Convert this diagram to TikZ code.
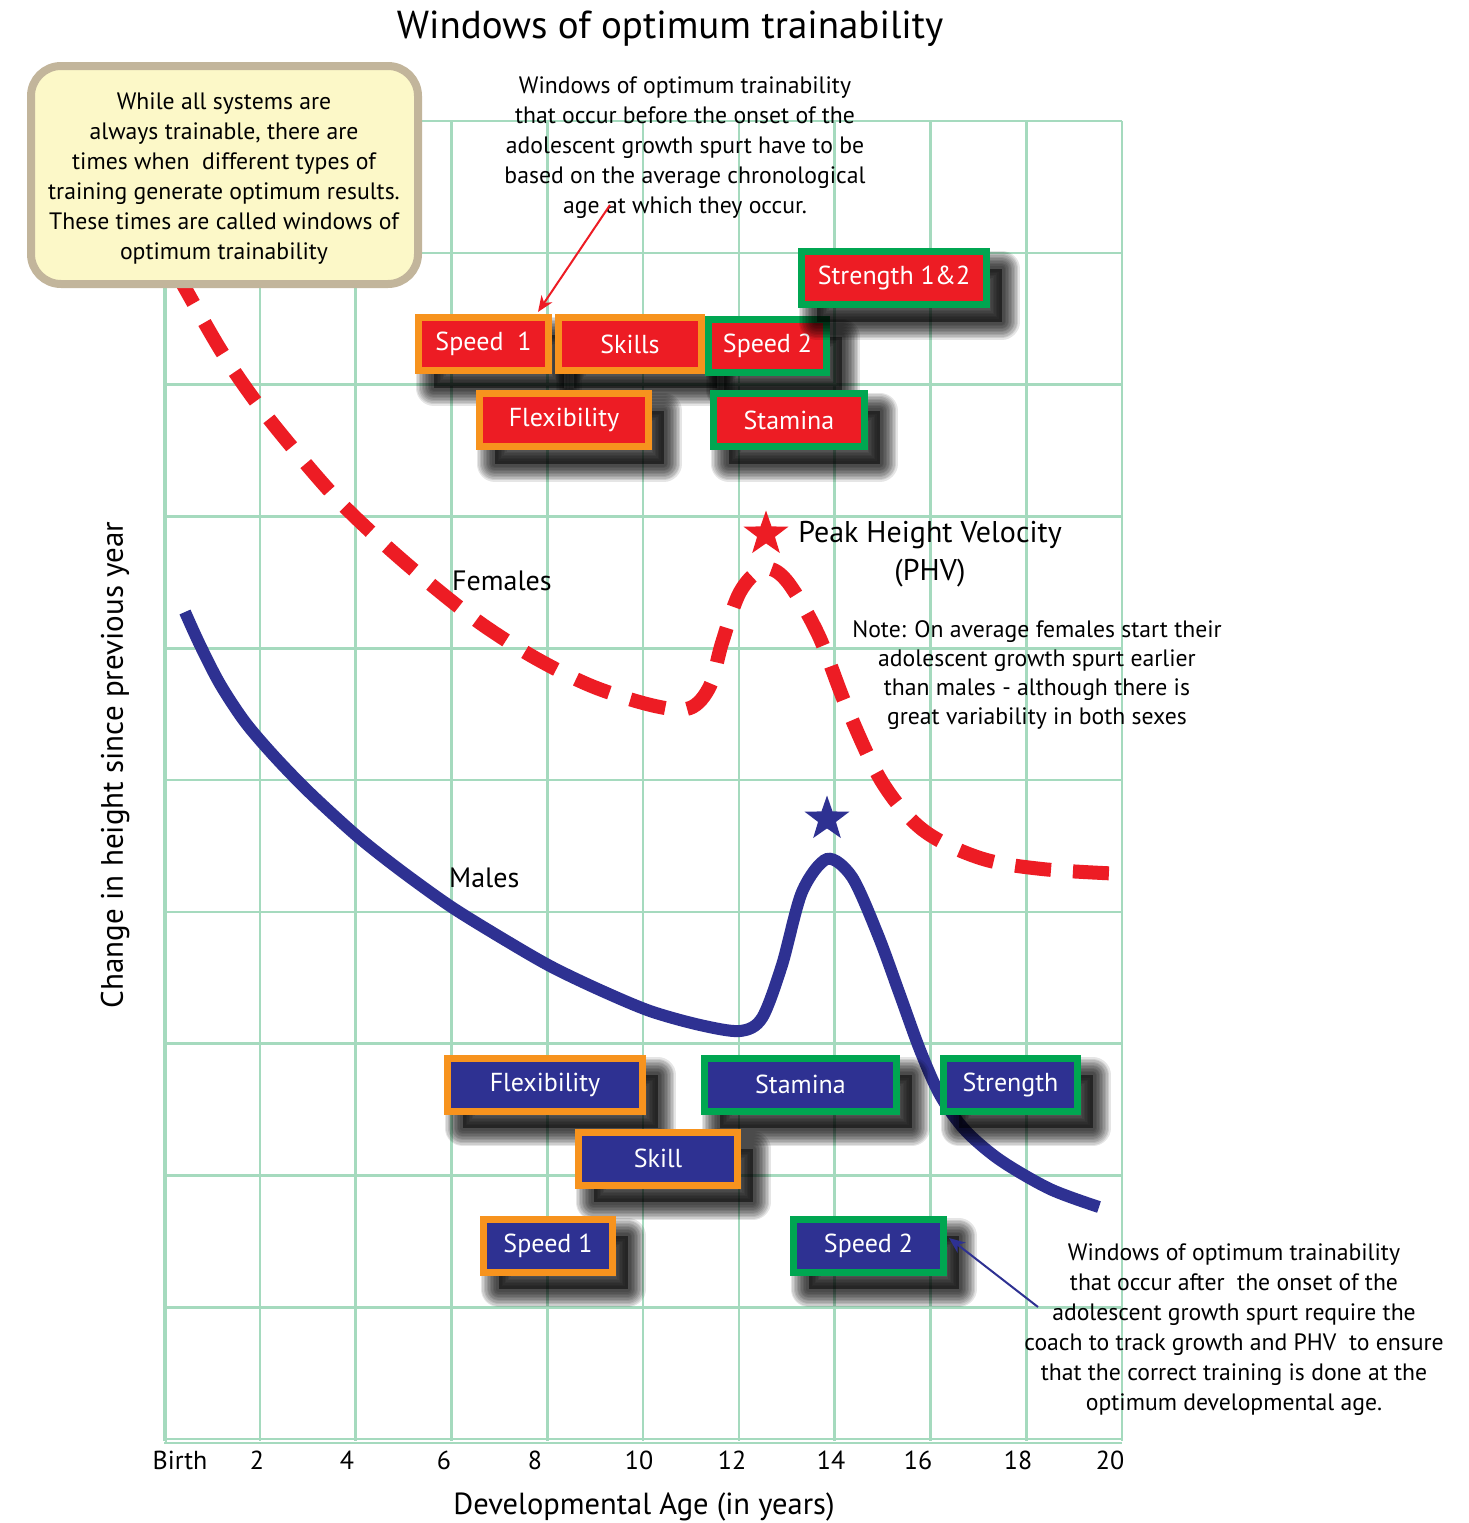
\documentclass[tikz,border=0pt]{standalone}
\usepackage{fontspec}
\setmainfont{PT Sans}
\usetikzlibrary{shapes.geometric,arrows.meta}
\definecolor{wred}{RGB}{237,28,36}
\definecolor{wblue}{RGB}{46,49,146}
\definecolor{worange}{RGB}{247,147,30}
\definecolor{wgreen}{RGB}{0,166,81}
\definecolor{wgrid}{RGB}{165,218,190}
\definecolor{cfill}{RGB}{252,248,200}
\definecolor{cline}{RGB}{194,181,155}
\tikzset{
  shadowlayer/.style={preaction={draw=black, line width=#1, opacity=0.1, line join=round,
    transform canvas={xshift=15pt, yshift=-17pt}}},
  shadowed/.style={
    shadowlayer=36pt, shadowlayer=33pt, shadowlayer=30pt, shadowlayer=27pt,
    shadowlayer=24pt, shadowlayer=21pt, shadowlayer=18pt, shadowlayer=15pt,
    shadowlayer=12pt, shadowlayer=9pt, shadowlayer=6pt,
    preaction={fill=black, opacity=0.5, transform canvas={xshift=15pt, yshift=-17pt}}},
  box/.style={shadowed, draw, line width=7pt, minimum height=53pt, inner sep=0pt, text=white,
    font=\fontsize{26}{30}\selectfont},
  redbox/.style={box, fill=wred},
  bluebox/.style={box, fill=wblue},
  ob/.style={draw=worange},
  gb/.style={draw=wgreen},
  gridline/.style={draw=wgrid, line width=2.6pt},
  note/.style={align=center, font=\fontsize{23.7}{30}\selectfont, inner sep=0pt},
  tick/.style={font=\fontsize{26}{30}\selectfont, inner sep=0pt},
  fem/.style={draw=wred, line width=14pt, dash pattern=on 36pt off 22pt},
  mal/.style={draw=wblue, line width=12pt},
  starmark/.style={star, star points=5, star point ratio=2.5, minimum size=47pt, inner sep=0pt}
}
\begin{document}
\begin{tikzpicture}[x=1pt,y=-1pt]
\useasboundingbox[fill=white] (0,0) rectangle (1469,1523);
% grid
\foreach \i in {0,...,10} {
  \draw[gridline] ({164+\i*95.8},121) -- ({164+\i*95.8},1441);
  \draw[gridline] (164,{121+\i*131.8}) -- (1122,{121+\i*131.8});
}
\draw[gridline] (164,1443) -- (1122,1443);
\draw[gridline] (166,121) -- (166,1443);
% female curve
\draw[fem] plot[smooth, tension=0.55] coordinates {(176,272) (220,349) (256,402) (296,452) (338,500) (384,544) (434,587) (483,625) (537,659) (594,687) (655,706) (690,708) (710,686) (722,643) (740,592) (763,569) (786,580) (818,634) (847,708) (882,782) (923,830) (980,858) (1042,869) (1124,874)};
% male curve
\draw[mal] plot[smooth, tension=0.5] coordinates {(185,612) (200,645) (220,684) (245,722) (275,757) (310,793) (357,836) (400,870) (450,906) (500,937) (550,966) (600,990) (650,1011) (700,1025) (740,1031) (762,1018) (782,965) (802,892) (827,859) (852,877) (878,935) (900,995) (920,1050) (940,1095) (965,1130) (1000,1160) (1050,1189) (1099,1207)};
% stars
\node[starmark, fill=wred] (rstar) at (766,534) {};
\node[starmark, fill=wblue] (bstar) at (827,819) {};
% callout
\node[draw=cline, fill=cfill, line width=8pt, rounded corners=30pt, minimum width=387pt, minimum height=218pt, inner sep=0pt] (callout) at (224.5,175) {};
\node[note] (callouttext) at (224,179) {While all systems are\\always trainable, there are\\times when\ \ different types of\\training generate optimum results.\\These times are called windows of\\optimum trainability};
% title
\node[font=\fontsize{39}{44}\selectfont, inner sep=0pt] (title) at (670,29) {Windows of optimum trainability};
% top note
\node[note] (topnote) at (685,148) {Windows of optimum trainability\\that occur before the onset of the\\adolescent growth spurt have to be\\based on the average chronological\\age at which they occur.};
% red boxes
\node[redbox, ob, minimum width=130pt] (sp1t) at (483.5,344) {Speed\ \ 1};
\node[redbox, ob, minimum width=143pt] (skt) at (630,344) {Skills};
\node[redbox, gb, minimum width=118pt] (sp2t) at (767.5,346) {Speed 2};
\node[redbox, gb, minimum width=185pt] (strt) at (894,278) {Strength 1\&2};
\node[redbox, ob, minimum width=169pt] (flt) at (564,420) {Flexibility};
\node[redbox, gb, minimum width=151pt] (stt) at (789,420) {Stamina};
% blue boxes
\node[bluebox, ob, minimum width=195pt] (flb) at (545,1084.5) {Flexibility};
\node[bluebox, gb, minimum width=192pt] (stb) at (800.5,1084.5) {Stamina};
\node[bluebox, gb, minimum width=134pt] (strb) at (1010.5,1084.5) {Strength};
\node[bluebox, ob, minimum width=159pt] (skb) at (658,1158.5) {Skill};
\node[bluebox, ob, minimum width=129pt] (sp1b) at (548,1245.5) {Speed 1};
\node[bluebox, gb, minimum width=150pt] (sp2b) at (868.5,1245.5) {Speed 2};
% arrows
\coordinate (ra1) at (610,205);
\coordinate (ra2) at (538,312);
\draw[wred, line width=2pt, -{Stealth[length=16pt,width=13pt,inset=5pt]}] (ra1) -- (ra2);
\coordinate (ba1) at (1038,1307);
\coordinate (ba2) at (949,1238);
\draw[wblue, line width=2pt, -{Stealth[length=16pt,width=13pt,inset=5pt]}] (ba1) -- (ba2);
% labels
\node[align=center, font=\fontsize{30}{38}\selectfont, inner sep=0pt] (phv) at (930,554) {Peak Height Velocity\\(PHV)};
\node[note, font=\fontsize{23.7}{29}\selectfont] (femnote) at (1037,675) {Note: On average females start their\\adolescent growth spurt earlier\\than males - although there is\\great variability in both sexes};
\node[anchor=west, font=\fontsize{28}{30}\selectfont, inner sep=0pt] (females) at (452,581) {Females};
\node[anchor=west, font=\fontsize{28}{30}\selectfont, inner sep=0pt] (males) at (449,878) {Males};
\node[note] (botnote) at (1234,1330) {Windows of optimum trainability\\that occur after\ \ the onset of the\\adolescent growth spurt require the\\coach to track growth and PHV\ \ to ensure\\that the correct training is done at the\\optimum developmental age.};
% axis ticks
\node[tick] (t0) at (180,1460) {Birth};
\node[tick] (t2) at (257,1460) {2};
\node[tick] (t4) at (347,1460) {4};
\node[tick] (t6) at (444,1460) {6};
\node[tick] (t8) at (535,1460) {8};
\node[tick] (t10) at (639,1460) {10};
\node[tick] (t12) at (732,1460) {12};
\node[tick] (t14) at (831,1460) {14};
\node[tick] (t16) at (918,1460) {16};
\node[tick] (t18) at (1018,1460) {18};
\node[tick] (t20) at (1110,1460) {20};
\node[font=\fontsize{30.5}{34}\selectfont, inner sep=0pt] (xlab) at (644,1507) {Developmental Age (in years)};
\node[font=\fontsize{31}{34}\selectfont, inner sep=0pt, rotate=90] (ylab) at (115,765) {Change in height since previous year};
\end{tikzpicture}
\end{document}
